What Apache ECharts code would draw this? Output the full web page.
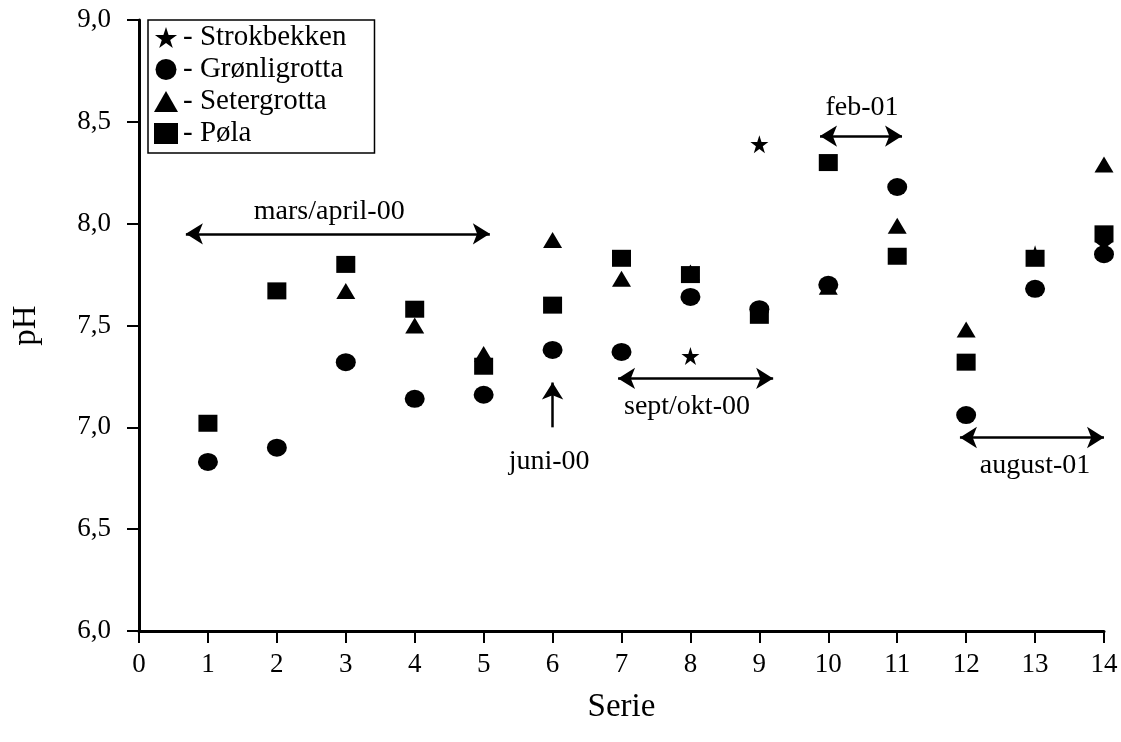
<!DOCTYPE html>
<html>
<head>
<meta charset="utf-8">
<script src="https://cdn.jsdelivr.net/npm/echarts@6/dist/echarts.min.js"></script>
<style>
html,body{margin:0;padding:0;background:#fff;}
#chart{width:1121px;height:742px;}
</style>
</head>
<body>
<div id="chart"></div>
<script>
// maalinger per serie
var strokX = [8, 9, 13, 14];
var strokY = [7.35, 8.39, 7.85, 7.90];

var gronX = [1, 2, 3, 4, 5, 6, 7, 8, 9, 10, 11, 12, 13, 14];
var gronY = [6.83, 6.90, 7.32, 7.14, 7.16, 7.38, 7.37, 7.64, 7.58, 7.70, 8.18, 7.06, 7.68, 7.85];

var seterX = [3, 4, 5, 6, 7, 8, 10, 11, 12, 14];
var seterY = [7.67, 7.50, 7.36, 7.92, 7.73, 7.76, 7.69, 7.99, 7.48, 8.29];

var polaX = [1, 2, 3, 4, 5, 6, 7, 8, 9, 10, 11, 12, 13, 14];
var polaY = [7.02, 7.67, 7.80, 7.58, 7.30, 7.60, 7.83, 7.75, 7.55, 8.30, 7.84, 7.32, 7.83, 7.95];

// perioder (tekst og piler)
var periodText = ['mars/april-00', 'juni-00', 'sept/okt-00', 'feb-01', 'august-01'];
var periodTextX = [2.76, 5.95, 7.95, 10.49, 13.0];
var periodTextY = [8.06, 6.83, 7.10, 8.57, 6.81];
var arrowFrom = [[0.68, 7.95], [6, 7.0], [6.95, 7.24], [9.88, 8.43], [11.91, 6.95]];
var arrowTo = [[5.09, 7.95], [6, 7.22], [9.2, 7.24], [11.07, 8.43], [14, 6.95]];
var arrowBoth = [true, false, true, true, true];

var xTicks = { min: 0, max: 14, step: 1 };
var yTicks = { min: 6, max: 9, step: 0.5 };

var star = 'path://M50 0 L61.23 34.55 L97.55 34.55 L68.16 55.9 L79.39 90.45 L50 69.1 L20.61 90.45 L31.84 55.9 L2.45 34.55 L38.77 34.55 Z';
var serif = 'Liberation Serif';

function pairs(xs, ys) {
  return xs.map(function (x, i) { return [x, ys[i]]; });
}

var arrowLines = arrowFrom.map(function (a, i) {
  return [
    { coord: a, symbol: arrowBoth[i] ? 'arrow' : 'none' },
    { coord: arrowTo[i], symbol: 'arrow' }
  ];
});

var black = { color: '#000', opacity: 1 };

var myChart = echarts.init(document.getElementById('chart'));
var option = {
  backgroundColor: '#fff',
  animation: false,
  grid: { left: 139, right: 17, top: 20, bottom: 111 },
  legend: {
    data: ['Strokbekken', 'Grønligrotta', 'Setergrotta', 'Pøla'],
    orient: 'vertical',
    left: 148,
    top: 20,
    borderColor: '#000',
    borderWidth: 1.5,
    padding: [3, 28, 5, 6],
    itemGap: 3,
    itemWidth: 24,
    itemHeight: 21,
    formatter: function (n) { return '- ' + n; },
    textStyle: { fontFamily: serif, fontSize: 29, color: '#000' }
  },
  xAxis: {
    type: 'value',
    min: xTicks.min, max: xTicks.max, interval: xTicks.step,
    name: 'Serie',
    nameLocation: 'middle',
    nameGap: 60,
    nameTextStyle: { fontFamily: serif, fontSize: 33, color: '#000' },
    axisLine: { lineStyle: { color: '#000', width: 3 } },
    axisTick: { length: 12, lineStyle: { color: '#000', width: 2 } },
    axisLabel: { margin: 20, fontFamily: serif, fontSize: 27, color: '#000' },
    splitLine: { show: false }
  },
  yAxis: {
    type: 'value',
    min: yTicks.min, max: yTicks.max, interval: yTicks.step,
    name: 'pH',
    nameLocation: 'middle',
    nameGap: 96,
    nameRotate: 90,
    nameTextStyle: { fontFamily: serif, fontSize: 33, color: '#000' },
    axisLine: { lineStyle: { color: '#000', width: 3 } },
    axisTick: { length: 12, lineStyle: { color: '#000', width: 2 } },
    axisLabel: {
      margin: 28, fontFamily: serif, fontSize: 27, color: '#000',
      formatter: function (v) { return v.toFixed(1).replace('.', ','); }
    },
    splitLine: { show: false }
  },
  series: [
    {
      name: 'Strokbekken', type: 'scatter', symbol: star, symbolSize: 18,
      itemStyle: black, data: pairs(strokX, strokY)
    },
    {
      name: 'Grønligrotta', type: 'scatter', symbol: 'circle', symbolSize: [20, 18],
      itemStyle: black, data: pairs(gronX, gronY)
    },
    {
      name: 'Setergrotta', type: 'scatter', symbol: 'triangle', symbolSize: [19, 16],
      itemStyle: black, data: pairs(seterX, seterY)
    },
    {
      name: 'Pøla', type: 'scatter', symbol: 'rect', symbolSize: [19, 17],
      itemStyle: black, data: pairs(polaX, polaY)
    },
    {
      name: 'perioder', type: 'scatter', symbolSize: 0, clip: false, silent: true,
      itemStyle: black,
      label: {
        show: true, position: 'inside', color: '#000',
        fontFamily: serif, fontSize: 28,
        formatter: function (p) { return periodText[p.dataIndex]; }
      },
      data: pairs(periodTextX, periodTextY),
      markLine: {
        silent: true,
        symbolSize: [16, 17],
        label: { show: false },
        lineStyle: { color: '#000', width: 2.5, type: 'solid', opacity: 1 },
        data: arrowLines
      }
    }
  ]
};
myChart.setOption(option);
</script>
</body>
</html>
